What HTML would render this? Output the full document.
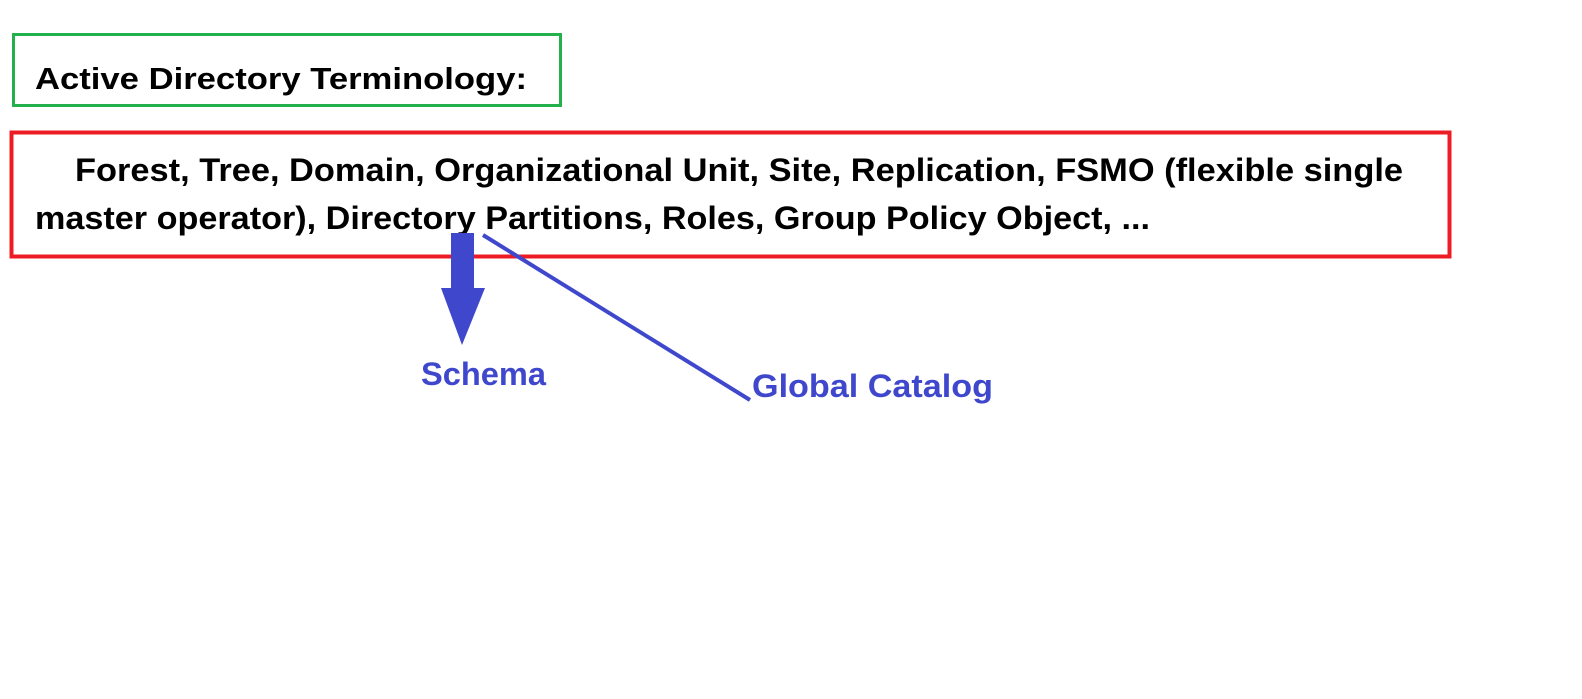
<!DOCTYPE html>
<html><head><style>body{margin:0;background:#fff}svg{display:block}</style></head><body>
<svg width="1582" height="699" xmlns="http://www.w3.org/2000/svg" font-family="Liberation Sans, sans-serif" font-weight="bold">
<rect x="13.5" y="34.5" width="547" height="71" fill="none" stroke="#22b14c" stroke-width="3"/>
<rect x="11.5" y="132.5" width="1438" height="124" fill="none" stroke="#ed1c24" stroke-width="4"/>
<text x="35" y="89" font-size="31" textLength="492" lengthAdjust="spacingAndGlyphs">Active Directory Terminology:</text>
<text x="75" y="181" font-size="32" textLength="1328" lengthAdjust="spacingAndGlyphs">Forest, Tree, Domain, Organizational Unit, Site, Replication, FSMO (flexible single</text>
<text x="35" y="229" font-size="32" textLength="1115" lengthAdjust="spacingAndGlyphs">master operator), Directory Partitions, Roles, Group Policy Object, ...</text>
<polygon points="451,233 474,233 474,288 485,288 462,345 441,288 451,288" fill="#3f48cc"/>
<line x1="483" y1="235" x2="750" y2="400" stroke="#3f48cc" stroke-width="4"/>
<text x="421" y="385" font-size="32" fill="#3f48cc" textLength="125" lengthAdjust="spacingAndGlyphs">Schema</text>
<text x="752" y="397" font-size="32" fill="#3f48cc" textLength="241" lengthAdjust="spacingAndGlyphs">Global Catalog</text>
</svg>
</body></html>
